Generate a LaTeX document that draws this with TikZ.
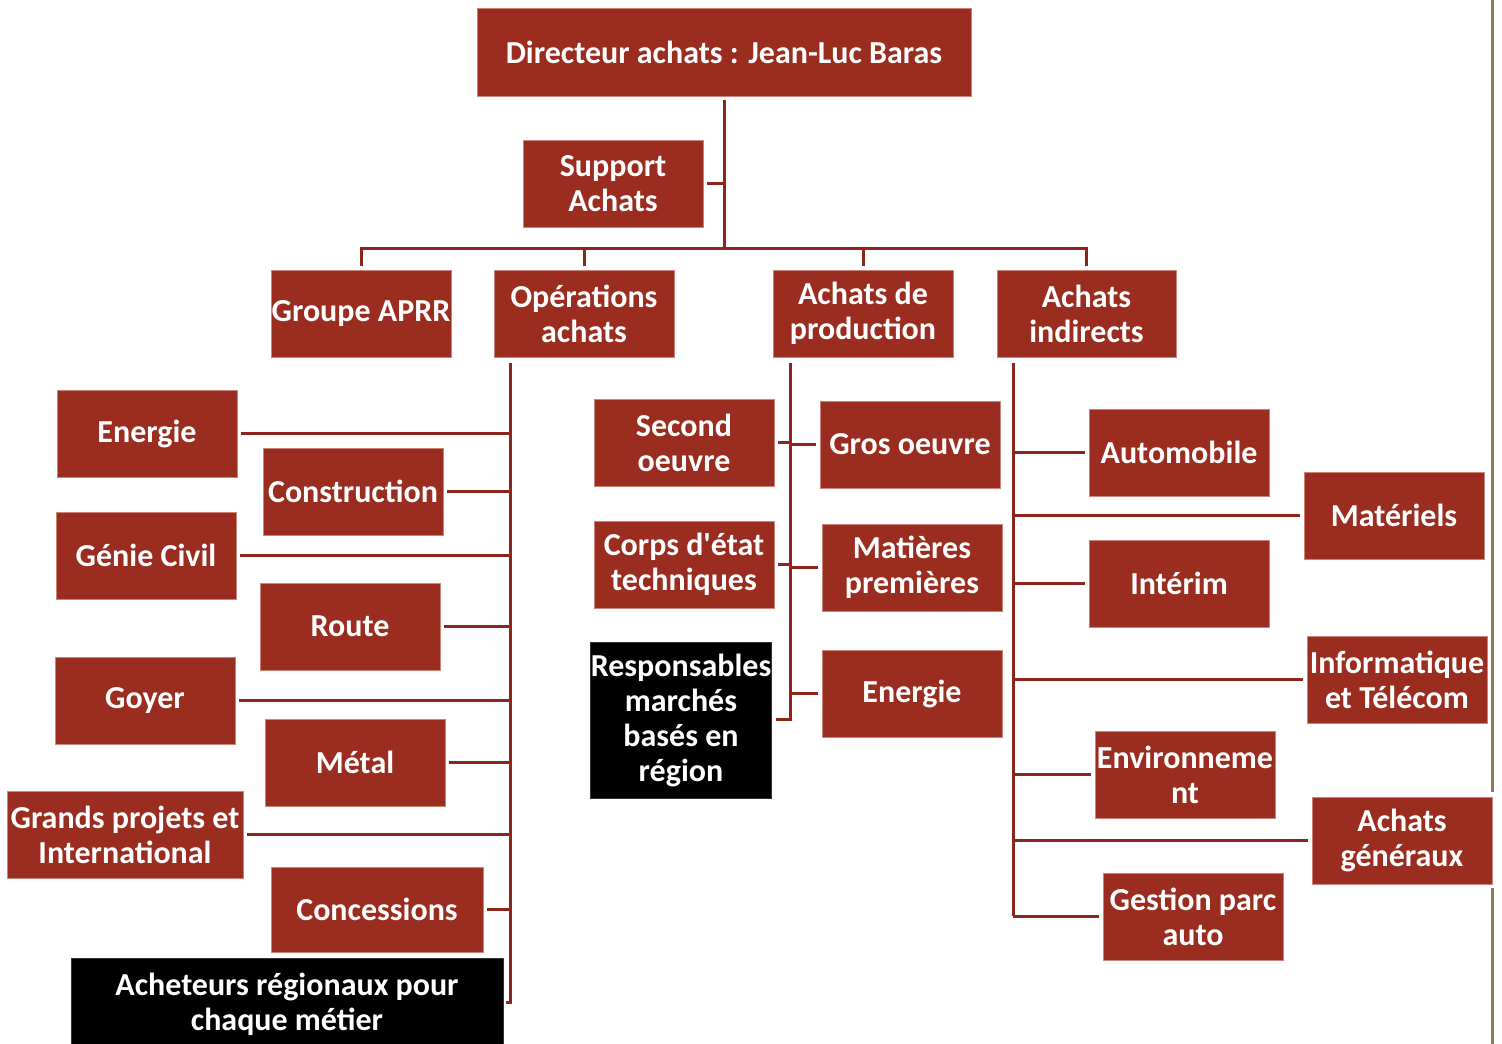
\documentclass[tikz,border=0pt]{standalone}
\usepackage{fontspec}
\setmainfont{Carlito}[Ligatures=TeXOff]
\definecolor{boxred}{RGB}{155,45,32}
\definecolor{boxedge}{RGB}{205,130,120}
\definecolor{linered}{RGB}{140,38,28}
\definecolor{tanline}{RGB}{140,123,90}
\tikzset{
  box/.style={fill=boxred, draw=boxedge, line width=0.8pt, text=white, align=center, inner sep=0pt,
    font=\fontsize{32}{35}\selectfont\bfseries},
  blackbox/.style={box, fill=black, draw=black!80},
  conn/.style={draw=linered, line width=3pt},
}
\newcommand\ob[7][box]{\node[#1, minimum width={(#5-#3)*1pt}, minimum height={(#6-#4)*1pt}] (#2) at ({(#3+#5)/2},{(#4+#6)/2}) {#7};}
\begin{document}
\begin{tikzpicture}[x=1pt,y=-1pt]
\useasboundingbox[fill=white] (0,0) rectangle (1502,1044);
% top level
\ob{dir}{477}{8}{971}{96}{Directeur achats : Jean-Luc Baras}
\ob{sup}{523}{140}{703}{227}{Support\\Achats}
\ob{apr}{271}{270}{451}{357}{Groupe APRR}
\ob{ops}{494}{270}{674}{357}{Opérations\\achats}
\ob{prd}{773}{270}{953}{357}{Achats de\\production}
\ob{ind}{997}{270}{1176}{357}{Achats\\indirects}
% operations
\ob{en1}{57}{390}{237}{477}{Energie}
\ob{con}{263}{448}{443}{535}{Construction}
\ob{gc}{56}{512}{236}{599}{Génie Civil}
\ob{rou}{260}{583}{440}{670}{Route}
\ob{goy}{55}{657}{235}{744}{Goyer}
\ob{met}{265}{719}{445}{806}{Métal}
\ob{gpi}{7}{791}{243}{878}{Grands projets et\\International}
\ob{cns}{271}{867}{483}{952}{Concessions}
\ob[blackbox]{ach}{71}{958}{503}{1050}{Acheteurs régionaux pour\\chaque métier}
% production
\ob{so}{594}{399}{774}{486}{Second\\oeuvre}
\ob{go}{820}{401}{1000}{488}{Gros oeuvre}
\ob{cet}{594}{521}{774}{608}{Corps d'état\\techniques}
\ob{mp}{822}{524}{1002}{611}{Matières\\premières}
\ob[blackbox]{resp}{591}{642}{771}{798}{Responsables\\marchés\\basés en\\région}
\ob{en2}{822}{650}{1002}{737}{Energie}
% indirects
\ob{aut}{1089}{409}{1269}{496}{Automobile}
\ob{mat}{1304}{472}{1484}{559}{Matériels}
\ob{int}{1089}{540}{1269}{627}{Intérim}
\ob{itc}{1307}{636}{1487}{723}{Informatique\\et Télécom}
\ob{env}{1095}{731}{1275}{818}{Environneme\\nt}
\ob{ag}{1312}{797}{1492}{884}{Achats\\généraux}
\ob{gpa}{1103}{873}{1283}{960}{Gestion parc\\auto}
% coordinates
\coordinate (hub) at (724,248);
\coordinate (opT) at (510,363);
\coordinate (opB) at (510,1002);
\coordinate (pT) at (790,363);
\coordinate (pB) at (790,719);
\coordinate (iT) at (1013,363);
\coordinate (iB) at (1013,916);
% top connectors
\draw[conn] ([yshift=-4pt]dir.south) -- (hub);
\draw[conn] ([xshift=4pt]sup.east) -- (sup.east -| hub);
\draw[conn] ([yshift=4pt]apr.north) -- (apr.north |- hub) -- (ind.north |- hub) -- ([yshift=4pt]ind.north);
\draw[conn] (ops.north |- hub) -- ([yshift=4pt]ops.north);
\draw[conn] (prd.north |- hub) -- ([yshift=4pt]prd.north);
% operations
\draw[conn] (opT) -- (opB) -- ([xshift=3pt]ach.east |- opB);
\foreach \n in {en1,con,gc,rou,goy,met,gpi,cns}
  \draw[conn] ([xshift=4pt]\n.east) -- (\n.east -| opT);
% production
\draw[conn] (pT) -- (pB) -- ([xshift=4pt]resp.east |- pB);
\foreach \n in {so,cet}
  \draw[conn] ([xshift=4pt]\n.east) -- (\n.east -| pT);
\foreach \n in {go,mp,en2}
  \draw[conn] ([xshift=-4pt]\n.west) -- (\n.west -| pT);
% indirects
\draw[conn] (iT) -- (iB);
\foreach \n in {aut,mat,int,itc,env,ag,gpa}
  \draw[conn] ([xshift=-4pt]\n.west) -- (\n.west -| iT);
% right edge line
\draw[tanline, line width=3pt] (1492,0) -- (1492,792) (1492,888) -- (1492,1044);
\end{tikzpicture}
\end{document}
